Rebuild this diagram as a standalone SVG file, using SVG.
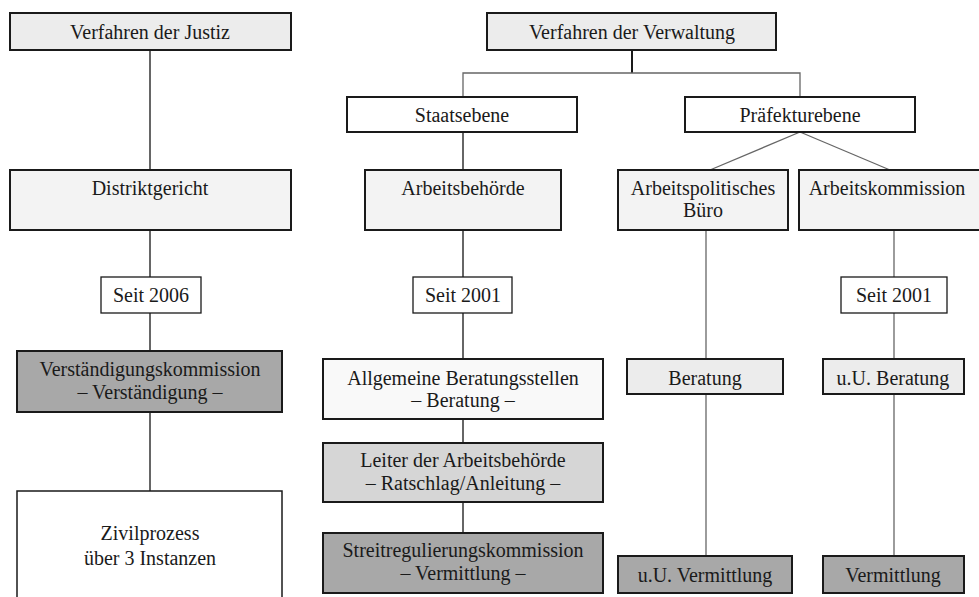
<svg xmlns="http://www.w3.org/2000/svg" width="979" height="597" viewBox="0 0 979 597">
<style>
.b{stroke:#1a1a1a;stroke-width:2}
.w{fill:#ffffff}
.l0{fill:#ececec}
.l1{fill:#f3f3f3}
.l2{fill:#f9f9f9}
.m{fill:#d6d6d6}
.d{fill:#a8a8a8}
text{font-family:'Liberation Serif',serif;font-size:20px;fill:#1a1a1a;text-anchor:middle}
.c{stroke:#333;stroke-width:1.5;fill:none}
.g{stroke:#666;stroke-width:1.3;fill:none}
</style>
<rect width="979" height="597" fill="#ffffff"/>
<g id="connectors">
<line class="c" x1="150" y1="50" x2="150" y2="170"/>
<line class="c" x1="150" y1="230" x2="150" y2="277"/>
<line class="c" x1="150" y1="313" x2="150" y2="351"/>
<line class="c" x1="150" y1="412" x2="150" y2="491"/>
<line class="b" x1="632" y1="50" x2="632" y2="73"/>
<polyline class="g" points="463,97 463,73 800,73 800,97"/>
<line class="c" x1="463" y1="132" x2="463" y2="170"/>
<line class="g" x1="800" y1="132" x2="710" y2="170"/>
<line class="g" x1="800" y1="132" x2="890" y2="170"/>
<line class="c" x1="463" y1="230" x2="463" y2="277"/>
<line class="c" x1="463" y1="313" x2="463" y2="359"/>
<line class="c" x1="463" y1="419" x2="463" y2="443"/>
<line class="c" x1="463" y1="502" x2="463" y2="533"/>
<line class="g" x1="706" y1="230" x2="706" y2="359"/>
<line class="g" x1="706" y1="394" x2="706" y2="556"/>
<line class="g" x1="894" y1="230" x2="894" y2="277"/>
<line class="g" x1="894" y1="313" x2="894" y2="359"/>
<line class="g" x1="894" y1="394" x2="894" y2="556"/>
</g>
<g font-family="Liberation Serif, serif">
<g id="justiz"><rect class="b l0" x="10" y="13" width="281" height="37"/><text x="150" y="39">Verfahren der Justiz</text></g>
<g id="distriktgericht"><rect class="b l1" x="10" y="170" width="281" height="60"/><text x="150" y="195">Distriktgericht</text></g>
<g id="seit2006"><rect class="b w" x="101" y="277" width="100" height="36" style="stroke-width:1.3"/><text x="151" y="302">Seit 2006</text></g>
<g id="verstaendigung"><rect class="b d" x="17" y="351" width="265" height="61"/><text x="150" y="376">Verständigungskommission</text><text x="150" y="399">– Verständigung –</text></g>
<g id="zivilprozess"><rect class="b w" x="17" y="491" width="265" height="112" style="stroke-width:1.5"/><text x="150" y="540">Zivilprozess</text><text x="150" y="565">über 3 Instanzen</text></g>
<g id="verwaltung"><rect class="b l0" x="487" y="13" width="289" height="37"/><text x="632" y="39">Verfahren der Verwaltung</text></g>
<g id="staatsebene"><rect class="b w" x="347" y="97" width="230" height="35"/><text x="462" y="122">Staatsebene</text></g>
<g id="praefekturebene"><rect class="b w" x="685" y="97" width="230" height="35"/><text x="800" y="122">Präfekturebene</text></g>
<g id="arbeitsbehoerde"><rect class="b l1" x="365" y="170" width="196" height="60"/><text x="463" y="195">Arbeitsbehörde</text></g>
<g id="buero"><rect class="b l1" x="618" y="170" width="170" height="60"/><text x="703" y="195">Arbeitspolitisches</text><text x="703" y="217">Büro</text></g>
<g id="arbeitskommission"><rect class="b l1" x="799" y="170" width="181" height="60"/><text x="887" y="195">Arbeitskommission</text></g>
<g id="seit2001a"><rect class="b w" x="413" y="277" width="99" height="36" style="stroke-width:1.3"/><text x="463" y="302">Seit 2001</text></g>
<g id="seit2001b"><rect class="b w" x="841" y="277" width="106" height="36" style="stroke-width:1.3"/><text x="894" y="302">Seit 2001</text></g>
<g id="beratungsstellen"><rect class="b l2" x="323" y="359" width="280" height="60"/><text x="463" y="385">Allgemeine Beratungsstellen</text><text x="463" y="407">– Beratung –</text></g>
<g id="leiter"><rect class="b m" x="323" y="443" width="280" height="59"/><text x="463" y="467">Leiter der Arbeitsbehörde</text><text x="463" y="490">– Ratschlag/Anleitung –</text></g>
<g id="streitregulierung"><rect class="b d" x="323" y="533" width="280" height="60"/><text x="463" y="557">Streitregulierungskommission</text><text x="463" y="580">– Vermittlung –</text></g>
<g id="beratung"><rect class="b l0" x="627" y="359" width="156" height="35"/><text x="705" y="385">Beratung</text></g>
<g id="uuberatung"><rect class="b l0" x="823" y="359" width="141" height="35"/><text x="893" y="385">u.U. Beratung</text></g>
<g id="uuvermittlung"><rect class="b d" x="618" y="556" width="174" height="37"/><text x="705" y="582">u.U. Vermittlung</text></g>
<g id="vermittlung"><rect class="b d" x="823" y="556" width="141" height="37"/><text x="893" y="582">Vermittlung</text></g>
</g>
</svg>
